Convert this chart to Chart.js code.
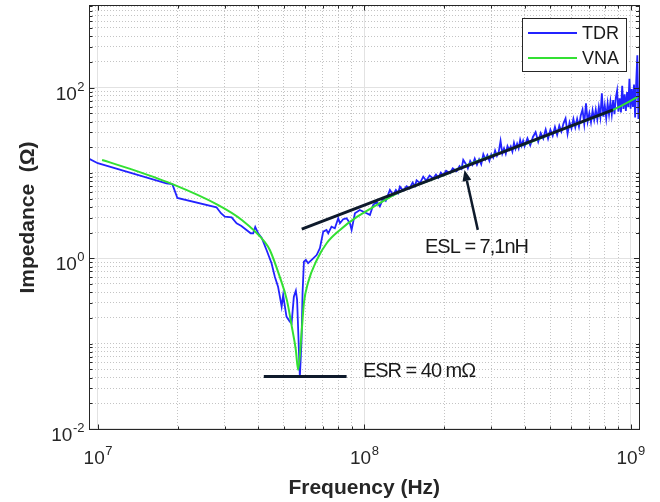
<!DOCTYPE html>
<html>
<head>
<meta charset="utf-8">
<script src="https://cdn.jsdelivr.net/npm/chart.js@4.4.1/dist/chart.umd.min.js"></script>
<style>
html, body { margin: 0; padding: 0; background: #fff; }
</style>
</head>
<body>
<canvas id="chart" width="660" height="502"></canvas>
<script>
// TDR measurement: frequency (MHz) and impedance (Ohm)
const tdrFreq = [
  9.25, 10.0, 18.1, 19.05, 19.9, 27.9, 29.0, 30.0, 31.8, 33.2,
  34.6, 37.5, 38.3, 39.0, 40.0, 41.3, 43.0, 44.9, 46.2, 47.5,
  48.25, 49.0, 49.65, 50.4, 51.1, 52.6, 53.4, 54.45, 55.4, 56.0,
  56.7, 57.35, 58.2, 58.7, 59.4, 60.4, 61.6, 63.5, 66.3, 68.2,
  70.2, 72.2, 73.3, 75.4, 77.6, 79.9, 81.1, 83.4, 85.9, 88.4,
  89.7, 92.3, 96.3,
  102.1, 105.1, 108.1, 111.3, 114.5, 117.9, 120.5, 124.9, 128.5, 131.5,
  134.0, 136.2, 140.0, 144.3, 148.0, 152.0, 155.0, 157.3, 162.0, 166.6,
  171.0, 176.0, 181.6, 186.0, 190.0, 194.0, 198.0, 203.0, 209.8, 215.0,
  222.3, 228.0, 232.0, 235.4, 242.4,
  245, 250, 255, 260, 265, 270,
  275, 280, 285, 290, 295, 300, 305, 310, 315, 320,
  325, 330, 335, 340, 345, 350, 355, 360, 365, 370,
  375, 380, 385, 390, 395, 400, 410, 420, 430, 440,
  450, 460, 470, 480, 490, 500, 510, 520, 530, 540,
  550, 560, 570, 580, 590, 600, 610, 620, 630, 640,
  650, 660, 670, 680, 690, 700, 710, 720, 730, 740,
  750, 760, 770, 780, 790, 800, 810, 820, 830, 840,
  850, 860, 870, 880, 890, 900, 910, 920, 930, 940,
  950, 960, 970, 980, 990, 1000, 1010, 1020, 1030, 1040,
  1050, 1060, 1070, 1080
];
const tdrZ = [
  14.7, 13.0, 7.57, 7.39, 5.09, 3.96, 3.37, 3.07, 3.01, 2.57,
  2.39, 1.96, 1.96, 2.33, 1.96, 1.72, 1.25, 0.874, 0.608, 0.465,
  0.355, 0.271, 0.371, 0.271, 0.207, 0.181, 0.173, 0.355, 0.417, 0.325,
  0.110, 0.0405, 0.110, 0.389, 0.912, 0.955, 0.874, 0.955, 1.09, 1.31,
  2.05, 2.15, 1.96, 2.35, 2.25, 2.94, 2.57, 2.87, 2.94, 2.57,
  2.15, 3.37, 3.68,
  3.37, 3.22, 4.22, 4.61, 4.05, 5.05, 4.7, 6.32, 5.52, 6.3,
  5.8, 6.91, 6.2, 7.0, 6.6, 7.7, 7.0, 8.2, 7.6, 9.05,
  8.1, 9.3, 8.6, 9.6, 8.8, 10.1, 9.4, 10.6, 9.9, 11.3,
  10.5, 12.0, 11.2, 14.2, 12.3,
  11.3, 13.8, 12.4, 14.7, 12.5, 14.4,
  12.6, 16.5, 14.4, 16.2, 13.9, 16.5, 15.1, 18.3, 15.9, 17.7,
  23.7, 16.9, 19.4, 16.8, 20.6, 18.6, 20.4, 17.8, 22.5, 19.2,
  22.0, 19.4, 24.4, 20.9, 23.8, 20.5, 25.4, 21.0, 26.4, 30.1,
  23.3, 29.4, 25.3, 32.3, 25.2, 32.1, 27.3, 34.6, 28.0, 35.9,
  30.6, 38.1, 43.6, 28.8, 39.2, 33.2, 43.0, 34.2, 43.1, 34.7,
  47.1, 55.2, 37.5, 65.5, 40.1, 50.2, 39.3, 54.1, 42.0, 55.0,
  42.4, 59.2, 45.2, 85.5, 45.6, 61.4, 43.9, 65.3, 48.4, 68.3,
  48.7, 71.3, 49.0, 76.1, 92.6, 52.1, 75.1, 51.2, 105.4, 56.1,
  83.4, 53.2, 88.7, 59.0, 126.6, 56.5, 96.4, 59.2, 108.9, 44.8,
  118.4, 240, 42.8, 100.9
];

// VNA measurement: frequency (MHz) and impedance (Ohm)
const vnaFreq = [
  10.38, 12.97, 18.97, 28.23, 34.73, 42.38, 44.25, 48.25, 51.25, 53.52,
  55.4, 56.5, 58.2, 59.4, 61.5, 66.4, 72.4, 81.1, 93.9, 111.6,
  136.2, 166.1, 200, 249.4, 323.3, 420, 543, 700, 859, 1066
];
const vnaZ = [
  14.2, 11.4, 7.43, 4.22, 2.81, 1.55, 1.25, 0.60, 0.325, 0.157,
  0.084, 0.049, 0.133, 0.299, 0.513, 0.955, 1.51, 2.15, 3.05, 4.22,
  5.99, 7.64, 9.5, 12.75, 17.2, 22.8, 31.5, 42.5, 54.8, 77.8
];

// series names
const seriesNames = ['TDR', 'VNA'];

// annotation lines (MHz, Ohm)
const eslFreq = [58.3, 859];
const eslZ = [2.2, 54.8];
const esrFreq = [42.0, 85.9];
const esrZ = [0.041, 0.041];
const arrowFreq = [267, 238];
const arrowZ = [2.15, 10.8];
const eslText = 'ESL = 7,1nH';
const esrText = 'ESR = 40 mΩ';
const eslTextAt = [264, 1.34];
const esrTextAt = [98.9, 0.0477];

// axes
const xRange = [9.27e6, 1.08e9];
const yRange = [0.0097, 930];
const xTickValues = [1e7, 1e8, 1e9];
const xTickExp = ['7', '8', '9'];
const yTickValues = [1e-2, 1, 1e2];
const yTickExp = ['-2', '0', '2'];

const FONT = '"Liberation Sans", Arial, Helvetica, sans-serif';
const AXIS_COLOR = '#262626';

const toPoints = (freq, z) => freq.map((f, i) => ({ x: f * 1e6, y: z[i] }));

const isMajor = (v, majors) => majors.some((m) => Math.abs(v / m - 1) < 1e-9);

// all 1..9 x 10^n ticks, majors only where labelled
function logTicks(majors) {
  return (scale) => {
    const ticks = [];
    const lo = Math.floor(Math.log10(scale.min));
    const hi = Math.ceil(Math.log10(scale.max));
    for (let e = lo; e <= hi; e++) {
      for (let m = 1; m <= 9; m++) {
        const v = m * Math.pow(10, e);
        if (v >= scale.min && v <= scale.max) {
          ticks.push({ value: v, major: isMajor(v, majors) });
        }
      }
    }
    scale.ticks = ticks;
  };
}

const gridColor = (c) => (c.tick && c.tick.major ? '#e2e2e2' : '#c4c4c4');
const gridDash = (c) => (c.tick && c.tick.major ? [] : [1, 2]);

// box, inward ticks, tick labels, arrow, text, legend
const decorPlugin = {
  id: 'decor',
  afterDraw(chart) {
    const { ctx, chartArea: a, scales: { x, y } } = chart;
    ctx.save();

    ctx.strokeStyle = AXIS_COLOR;
    ctx.lineWidth = 1;
    ctx.strokeRect(Math.round(a.left) + 0.5, Math.round(a.top) + 0.5,
      Math.round(a.right - a.left) - 1, Math.round(a.bottom - a.top) - 1);

    ctx.beginPath();
    x.ticks.forEach((t) => {
      const p = Math.round(x.getPixelForValue(t.value)) + 0.5;
      const len = t.major ? 5.5 : 3.5;
      ctx.moveTo(p, a.bottom); ctx.lineTo(p, a.bottom - len);
      ctx.moveTo(p, a.top); ctx.lineTo(p, a.top + len);
    });
    y.ticks.forEach((t) => {
      const p = Math.round(y.getPixelForValue(t.value)) + 0.5;
      const len = t.major ? 5.5 : 3.5;
      ctx.moveTo(a.left, p); ctx.lineTo(a.left + len, p);
      ctx.moveTo(a.right, p); ctx.lineTo(a.right - len, p);
    });
    ctx.stroke();

    // tick labels 10^n
    ctx.fillStyle = AXIS_COLOR;
    ctx.textBaseline = 'alphabetic';
    ctx.textAlign = 'left';
    const baseFont = '19px ' + FONT;
    const expFont = '13px ' + FONT;
    xTickValues.forEach((v, i) => {
      const p = x.getPixelForValue(v);
      ctx.font = baseFont;
      const w1 = ctx.measureText('10').width;
      ctx.font = expFont;
      const w2 = ctx.measureText(xTickExp[i]).width;
      const sx = p - (w1 + w2) / 2;
      ctx.font = baseFont;
      ctx.fillText('10', sx, a.bottom + 34);
      ctx.font = expFont;
      ctx.fillText(xTickExp[i], sx + w1 + 0.5, a.bottom + 25);
    });
    yTickValues.forEach((v, i) => {
      const p = y.getPixelForValue(v);
      ctx.font = baseFont;
      const w1 = ctx.measureText('10').width;
      ctx.font = expFont;
      const w2 = ctx.measureText(yTickExp[i]).width;
      const sx = a.left - 5 - (w1 + w2);
      ctx.font = baseFont;
      ctx.fillText('10', sx, p + 12);
      ctx.font = expFont;
      ctx.fillText(yTickExp[i], sx + w1 + 0.5, p + 3);
    });

    // arrow to the ESL line
    const ax0 = x.getPixelForValue(arrowFreq[0] * 1e6), ay0 = y.getPixelForValue(arrowZ[0]);
    const ax1 = x.getPixelForValue(arrowFreq[1] * 1e6), ay1 = y.getPixelForValue(arrowZ[1]);
    const ang = Math.atan2(ay1 - ay0, ax1 - ax0);
    const hl = 11, hw = 4.5;
    const bx = ax1 - hl * Math.cos(ang), by = ay1 - hl * Math.sin(ang);
    ctx.strokeStyle = '#0e1a2b';
    ctx.fillStyle = '#0e1a2b';
    ctx.lineWidth = 2.5;
    ctx.beginPath();
    ctx.moveTo(ax0, ay0);
    ctx.lineTo(bx, by);
    ctx.stroke();
    ctx.beginPath();
    ctx.moveTo(ax1, ay1);
    ctx.lineTo(bx + hw * Math.sin(ang), by - hw * Math.cos(ang));
    ctx.lineTo(bx - hw * Math.sin(ang), by + hw * Math.cos(ang));
    ctx.closePath();
    ctx.fill();

    // annotation text
    ctx.fillStyle = '#1a1a1a';
    ctx.font = '20px ' + FONT;
    if ('letterSpacing' in ctx) ctx.letterSpacing = '-1px';
    ctx.textBaseline = 'middle';
    ctx.textAlign = 'center';
    ctx.fillText(eslText, x.getPixelForValue(eslTextAt[0] * 1e6), y.getPixelForValue(eslTextAt[1]));
    ctx.textAlign = 'left';
    ctx.fillText(esrText, x.getPixelForValue(esrTextAt[0] * 1e6), y.getPixelForValue(esrTextAt[1]));
    if ('letterSpacing' in ctx) ctx.letterSpacing = '0px';

    // legend
    const lx = 522, ly = 18, lw = 104, lh = 53;
    ctx.fillStyle = '#fff';
    ctx.fillRect(lx, ly, lw, lh);
    ctx.strokeStyle = AXIS_COLOR;
    ctx.lineWidth = 1;
    ctx.strokeRect(lx + 0.5, ly + 0.5, lw, lh);
    ctx.font = '18px ' + FONT;
    ctx.textAlign = 'left';
    ctx.textBaseline = 'middle';
    [0, 1].forEach((k) => {
      const ds = chart.data.datasets[k];
      const yy = ly + 15 + k * 25;
      ctx.strokeStyle = ds.borderColor;
      ctx.lineWidth = 2;
      ctx.beginPath();
      ctx.moveTo(lx + 6, yy);
      ctx.lineTo(lx + 55, yy);
      ctx.stroke();
      ctx.fillStyle = '#1a1a1a';
      ctx.fillText(ds.label, lx + 60, yy + 1);
    });

    ctx.restore();
  }
};

const canvas = document.getElementById('chart');
const chart = new Chart(canvas, {
  type: 'line',
  data: {
    datasets: [
      {
        label: seriesNames[0],
        data: toPoints(tdrFreq, tdrZ),
        borderColor: '#2323ff',
        borderWidth: 1.8,
        order: 2
      },
      {
        label: seriesNames[1],
        data: toPoints(vnaFreq, vnaZ),
        borderColor: '#33e033',
        borderWidth: 2,
        cubicInterpolationMode: 'monotone',
        order: 1
      },
      {
        label: 'ESL',
        data: toPoints(eslFreq, eslZ),
        borderColor: '#0e1a2b',
        borderWidth: 3,
        order: 0
      },
      {
        label: 'ESR',
        data: toPoints(esrFreq, esrZ),
        borderColor: '#0e1a2b',
        borderWidth: 3,
        order: 0
      }
    ]
  },
  options: {
    responsive: false,
    animation: false,
    layout: { padding: { left: 0, right: 20.5, top: 5, bottom: 0 } },
    elements: { point: { radius: 0 }, line: { tension: 0 } },
    plugins: { legend: { display: false }, tooltip: { enabled: false } },
    scales: {
      x: {
        type: 'logarithmic',
        min: xRange[0],
        max: xRange[1],
        afterBuildTicks: logTicks(xTickValues),
        afterFit: (s) => { s.height = 72; },
        ticks: { display: false },
        grid: { drawTicks: false, color: gridColor, lineWidth: 1 },
        border: { display: false, dash: gridDash },
        title: {
          display: true,
          text: 'Frequency (Hz)',
          color: AXIS_COLOR,
          font: { family: FONT, size: 21, weight: 'bold' },
          padding: { top: 0, bottom: 1 }
        }
      },
      y: {
        type: 'logarithmic',
        min: yRange[0],
        max: yRange[1],
        afterBuildTicks: logTicks(yTickValues),
        afterFit: (s) => { s.width = 89; },
        ticks: { display: false },
        grid: { drawTicks: false, color: gridColor, lineWidth: 1 },
        border: { display: false, dash: gridDash },
        title: {
          display: true,
          text: 'Impedance  (Ω)',
          color: AXIS_COLOR,
          font: { family: FONT, size: 21, weight: 'bold' },
          padding: { top: 16, bottom: 0 }
        }
      }
    }
  },
  plugins: [decorPlugin]
});
</script>
</body>
</html>
